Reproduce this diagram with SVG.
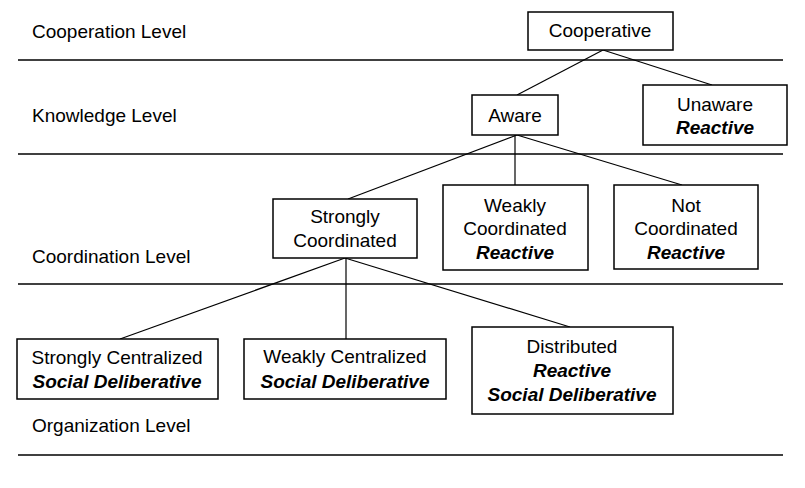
<svg xmlns="http://www.w3.org/2000/svg" width="805" height="488" viewBox="0 0 805 488">
<style>
text{font-family:"Liberation Sans",Arial,sans-serif;font-size:19px;fill:#000}
.c{text-anchor:middle}
.b{font-weight:bold;font-style:italic}
.box{fill:#fff;stroke:#000;stroke-width:1.5}
.lvl{stroke:#000;stroke-width:1.5}
.con{stroke:#000;stroke-width:1.2;fill:none}
</style>
<rect width="805" height="488" fill="#fff"/>
<g id="levels">
<line class="lvl" x1="18" y1="60" x2="783" y2="60"/>
<line class="lvl" x1="18" y1="154" x2="783" y2="154"/>
<line class="lvl" x1="18" y1="284" x2="783" y2="284"/>
<line class="lvl" x1="18" y1="455" x2="783" y2="455"/>
<text x="32" y="38">Cooperation Level</text>
<text x="32" y="122">Knowledge Level</text>
<text x="32" y="263">Coordination Level</text>
<text x="32" y="432">Organization Level</text>
</g>
<g id="connectors">
<line class="con" x1="603" y1="50" x2="517" y2="95"/>
<line class="con" x1="603" y1="50" x2="712" y2="85"/>
<line class="con" x1="517" y1="135" x2="348" y2="199"/>
<line class="con" x1="515" y1="135" x2="515" y2="185"/>
<line class="con" x1="517" y1="135" x2="682" y2="185"/>
<line class="con" x1="345" y1="258" x2="120" y2="339"/>
<line class="con" x1="346" y1="258" x2="346" y2="339"/>
<line class="con" x1="345" y1="258" x2="570" y2="327"/>
</g>
<g id="cooperative">
<rect class="box" x="528" y="12" width="145" height="38"/>
<text class="c" x="600" y="37">Cooperative</text>
</g>
<g id="aware">
<rect class="box" x="472" y="95" width="86" height="40"/>
<text class="c" x="515" y="122">Aware</text>
</g>
<g id="unaware">
<rect class="box" x="643" y="85" width="144" height="60"/>
<text class="c" x="715" y="111">Unaware</text>
<text class="c b" x="715" y="134">Reactive</text>
</g>
<g id="strongly-coordinated">
<rect class="box" x="273" y="199" width="144" height="59"/>
<text class="c" x="345" y="223">Strongly</text>
<text class="c" x="345" y="247">Coordinated</text>
</g>
<g id="weakly-coordinated">
<rect class="box" x="443" y="185" width="145" height="85"/>
<text class="c" x="515" y="212">Weakly</text>
<text class="c" x="515" y="235">Coordinated</text>
<text class="c b" x="515" y="259">Reactive</text>
</g>
<g id="not-coordinated">
<rect class="box" x="614" y="185" width="144" height="84"/>
<text class="c" x="686" y="212">Not</text>
<text class="c" x="686" y="235">Coordinated</text>
<text class="c b" x="686" y="259">Reactive</text>
</g>
<g id="strongly-centralized">
<rect class="box" x="17" y="339" width="201" height="60"/>
<text class="c" x="117" y="364">Strongly Centralized</text>
<text class="c b" x="117" y="388">Social Deliberative</text>
</g>
<g id="weakly-centralized">
<rect class="box" x="244" y="339" width="202" height="60"/>
<text class="c" x="345" y="363">Weakly Centralized</text>
<text class="c b" x="345" y="388">Social Deliberative</text>
</g>
<g id="distributed">
<rect class="box" x="472" y="327" width="201" height="87"/>
<text class="c" x="572" y="353">Distributed</text>
<text class="c b" x="572" y="377">Reactive</text>
<text class="c b" x="572" y="401">Social Deliberative</text>
</g>
</svg>
